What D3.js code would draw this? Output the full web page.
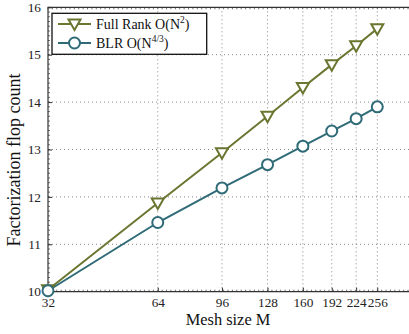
<!DOCTYPE html>
<html>
<head>
<meta charset="utf-8">
<script src="https://cdn.jsdelivr.net/npm/d3@7"></script>
<style>
  body { margin: 0; background: #fff; }
</style>
</head>
<body>
<div id="chart"></div>
<script>
const meshSizes = [32, 64, 96, 128, 160, 192, 224, 256];
const fullRank = [10.04, 11.87, 12.93, 13.70, 14.31, 14.79, 15.19, 15.55];
const blr = [10.02, 11.46, 12.19, 12.68, 13.07, 13.39, 13.65, 13.90];
const yTicks = [10, 11, 12, 13, 14, 15, 16];

const width = 409, height = 334;
const plot = {left: 48, right: 412, top: 7.3, bottom: 291.7};
const serif = "Times New Roman, Times, Liberation Serif, DejaVu Serif, serif";

const svg = d3.select("#chart").append("svg")
  .attr("width", width)
  .attr("height", height)
  .style("font-family", serif);

const x = d3.scaleLog().base(2)
  .domain([32, 256])
  .range([plot.left, 377.3]);

const y = d3.scaleLinear()
  .domain([10, 16])
  .range([plot.bottom, plot.top]);

// grid
const grid = svg.append("g").attr("stroke", "#666").attr("stroke-width", 0.8)
  .attr("stroke-dasharray", "1,3");
grid.selectAll(".gx").data(meshSizes.slice(1)).enter().append("line")
  .attr("x1", d => x(d)).attr("x2", d => x(d))
  .attr("y1", plot.top).attr("y2", plot.bottom);
grid.selectAll(".gy").data(yTicks.slice(1, -1)).enter().append("line")
  .attr("x1", plot.left).attr("x2", plot.right)
  .attr("y1", d => y(d)).attr("y2", d => y(d));

// minor ticks
const minorX = d3.range(5, 8.4, 0.04).map(v => Math.pow(2, v));
const minorY = d3.range(10, 16.001, 0.1);
const ticks = svg.append("g").attr("stroke", "#333").attr("stroke-width", 0.7);
ticks.selectAll(".mx").data(minorX).enter().append("line")
  .attr("x1", d => x(d)).attr("x2", d => x(d))
  .attr("y1", plot.bottom).attr("y2", plot.bottom - 2);
ticks.selectAll(".mxt").data(minorX).enter().append("line")
  .attr("x1", d => x(d)).attr("x2", d => x(d))
  .attr("y1", plot.top).attr("y2", plot.top + 2);
ticks.selectAll(".my").data(minorY).enter().append("line")
  .attr("x1", plot.left).attr("x2", plot.left + 2)
  .attr("y1", d => y(d)).attr("y2", d => y(d));

// axes
const xAxis = svg.append("g")
  .attr("transform", `translate(0, ${plot.bottom})`)
  .call(d3.axisBottom(x).tickValues(meshSizes).tickFormat(d3.format("d"))
    .tickSizeInner(-4).tickSizeOuter(0).tickPadding(6));
xAxis.attr("font-family", null);
xAxis.select(".domain").remove();
xAxis.selectAll("text").attr("font-size", 13.3).attr("fill", "#222");
xAxis.selectAll("line").attr("stroke", "#333");

const yAxis = svg.append("g")
  .attr("transform", `translate(${plot.left}, 0)`)
  .call(d3.axisLeft(y).tickValues(yTicks).tickFormat(d3.format("d"))
    .tickSizeInner(-4).tickSizeOuter(0).tickPadding(7));
yAxis.attr("font-family", null);
yAxis.select(".domain").remove();
yAxis.selectAll("text").attr("font-size", 13.3).attr("fill", "#222");
yAxis.selectAll("line").attr("stroke", "#333");

// box
svg.append("path")
  .attr("d", `M${plot.right},${plot.top}H${plot.left}V${plot.bottom}H${plot.right}`)
  .attr("fill", "none").attr("stroke", "#333").attr("stroke-width", 1.2);

// series
const series = [
  {name: "full", values: fullRank, color: "#6b7630", marker: "tri"},
  {name: "blr", values: blr, color: "#2f6b77", marker: "circle"}
];

const line = d3.line()
  .x((d, i) => x(meshSizes[i]))
  .y(d => y(d));

const triangle = "M-6,-4.5L6,-4.5L0,6Z";

function drawMarker(sel, s) {
  if (s.marker === "tri") {
    sel.append("path").attr("d", triangle)
      .attr("fill", "#fff").attr("stroke", s.color).attr("stroke-width", 2);
  } else {
    sel.append("circle").attr("r", 5.5)
      .attr("fill", "#fff").attr("stroke", s.color).attr("stroke-width", 2);
  }
}

series.forEach(s => {
  svg.append("path")
    .datum(s.values)
    .attr("d", line)
    .attr("fill", "none")
    .attr("stroke", s.color)
    .attr("stroke-width", 2);
});
series.forEach(s => {
  svg.selectAll(".m-" + s.name).data(s.values).enter().append("g")
    .attr("transform", (d, i) => `translate(${x(meshSizes[i])}, ${y(d)})`)
    .each(function () { drawMarker(d3.select(this), s); });
});

// legend
const legend = svg.append("g");
legend.append("rect")
  .attr("x", 52).attr("y", 13.3).attr("width", 154.7).attr("height", 41)
  .attr("fill", "#fff").attr("stroke", "#111").attr("stroke-width", 1.3);

const legendLabels = [
  {base: "Full Rank O(N", sup: "2"},
  {base: "BLR O(N", sup: "4/3"}
];
legendLabels.forEach((l, i) => {
  const s = series[i];
  const cy = 24 + i * 19;
  legend.append("line")
    .attr("x1", 58).attr("x2", 91).attr("y1", cy).attr("y2", cy)
    .attr("stroke", s.color).attr("stroke-width", 2);
  const g = legend.append("g").attr("transform", `translate(74.5, ${cy})`);
  drawMarker(g, s);
  const t = legend.append("text")
    .attr("x", 96).attr("y", cy + 5)
    .attr("font-size", 14).attr("fill", "#111");
  t.append("tspan").text(l.base);
  t.append("tspan").attr("dy", -6).attr("font-size", 9.5).text(l.sup);
  t.append("tspan").attr("dy", 6).text(")");
});

// axis titles
svg.append("text")
  .attr("x", 228).attr("y", 325)
  .attr("text-anchor", "middle")
  .attr("font-size", 16.4).attr("fill", "#111")
  .text("Mesh size M");

svg.append("text")
  .attr("transform", "translate(20, 160) rotate(-90)")
  .attr("text-anchor", "middle")
  .attr("font-size", 18).attr("fill", "#111")
  .text("Factorization flop count");
</script>
</body>
</html>
